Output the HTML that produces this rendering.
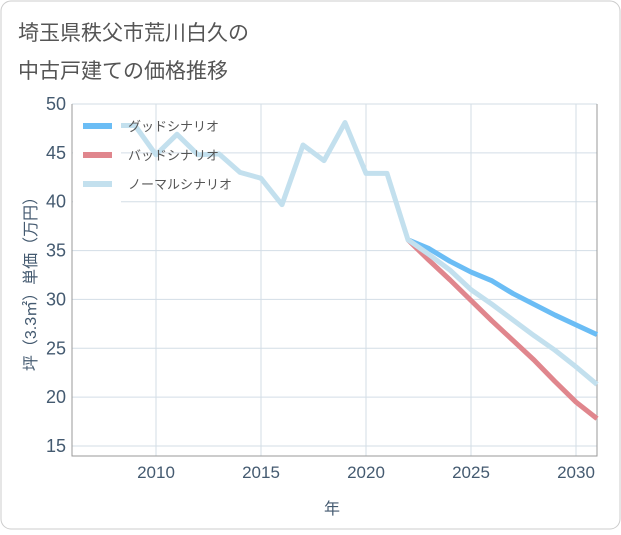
<!DOCTYPE html>
<html><head><meta charset="utf-8"><style>
body{margin:0;background:#fff;}
svg text{font-family:"Liberation Sans","Noto Sans CJK JP",sans-serif;}
</style></head><body>
<svg width="621" height="530">
<rect x="1" y="1" width="619" height="528" rx="10" fill="#fff" stroke="#ccc"/>
<text x="18" y="40" font-size="21" fill="#555">埼玉県秩父市荒川白久の</text>
<text x="18" y="78" font-size="21" fill="#555">中古戸建ての価格推移</text>
<g id="grid"></g>
<g id="marks"></g>
<rect x="73" y="106" width="48" height="98" fill="#fff"/>
<g id="legend"></g>
<text x="332" y="514" font-size="16" fill="#445a70" text-anchor="middle">年</text>
<text transform="translate(36,280) rotate(-90)" font-size="16" fill="#445a70" text-anchor="middle">坪（3.3㎡）単価（万円）</text>
</svg>
<script>
const histYears=[2008,2009,2010,2011,2012,2013,2014,2015,2016,2017,2018,2019,2020,2021,2022];
const histValues=[47.8,47.8,44.8,46.9,44.8,44.9,43.0,42.4,39.7,45.8,44.2,48.1,42.9,42.9,36.1];
const fcYears=[2022,2023,2024,2025,2026,2027,2028,2029,2030,2031];
const goodValues=[36.1,35.2,33.9,32.8,31.9,30.6,29.5,28.4,27.4,26.4];
const badValues=[36.1,34.0,32.0,29.9,27.8,25.8,23.8,21.6,19.5,17.8];
const normalValues=[36.1,34.6,33.0,31.0,29.5,27.9,26.3,24.8,23.1,21.3];
const yTicks=[15,20,25,30,35,40,45,50];
const xTicks=[2010,2015,2020,2025,2030];
const seriesNames=["グッドシナリオ","バッドシナリオ","ノーマルシナリオ"];
const L=72,R=597,T=104,B=456;
const xs=y=>L+(y-2006)*(R-L)/25;
const ys=v=>104+(50-v)*(446-104)/35;
const NS="http://www.w3.org/2000/svg";
function mk(tag,attrs,parent){const e=document.createElementNS(NS,tag);for(const k in attrs)e.setAttribute(k,attrs[k]);parent.appendChild(e);return e;}
const grid=document.getElementById('grid'),marks=document.getElementById('marks'),leg=document.getElementById('legend');
yTicks.forEach(v=>{
 const l=mk('line',{x1:L,x2:R,y1:ys(v),y2:ys(v),stroke:'#d3dde6','stroke-width':1},grid);
 
 
 const t=mk('text',{x:L-6,y:ys(v)+6,'font-size':18,fill:'#445a70','text-anchor':'end'},grid);
 t.textContent=v;
 
 
});
xTicks.forEach(v=>{
 const l=mk('line',{x1:xs(v),x2:xs(v),y1:T,y2:B,stroke:'#d3dde6','stroke-width':1},grid);
 
 
 const t=mk('text',{x:xs(v),y:B+22,'font-size':17,fill:'#445a70','text-anchor':'middle'},grid);
 t.textContent=v;
 
 
});
const ax=mk('path',{d:`M${L},${T}V${B}H${R}V${T}`,fill:'none',stroke:'#999','stroke-width':1},grid);


function line(years,vals,color,name){
 const p=mk('polyline',{points:years.map((y,i)=>xs(y)+','+ys(vals[i])).join(' '),fill:'none',stroke:color,'stroke-width':5,'stroke-linejoin':'round'},marks);
 
 
}
line(fcYears,goodValues,'#6bbdf5','good-scenario-line');
line(fcYears,badValues,'#e0868d','bad-scenario-line');
line(histYears.concat(fcYears.slice(1)),histValues.concat(normalValues.slice(1)),'#c3e0ee','normal-scenario-line');
const colors=['#6bbdf5','#e0868d','#c3e0ee'];
seriesNames.forEach((n,i)=>{
 const y=126+i*29;
 const s=mk('rect',{x:83,y:y-3,width:29,height:6,fill:colors[i]},leg);
 
 
 const t=mk('text',{x:128,y:y+5,'font-size':13,fill:'#555'},leg);
 t.textContent=n;
 
 
});
</script>
</body></html>
